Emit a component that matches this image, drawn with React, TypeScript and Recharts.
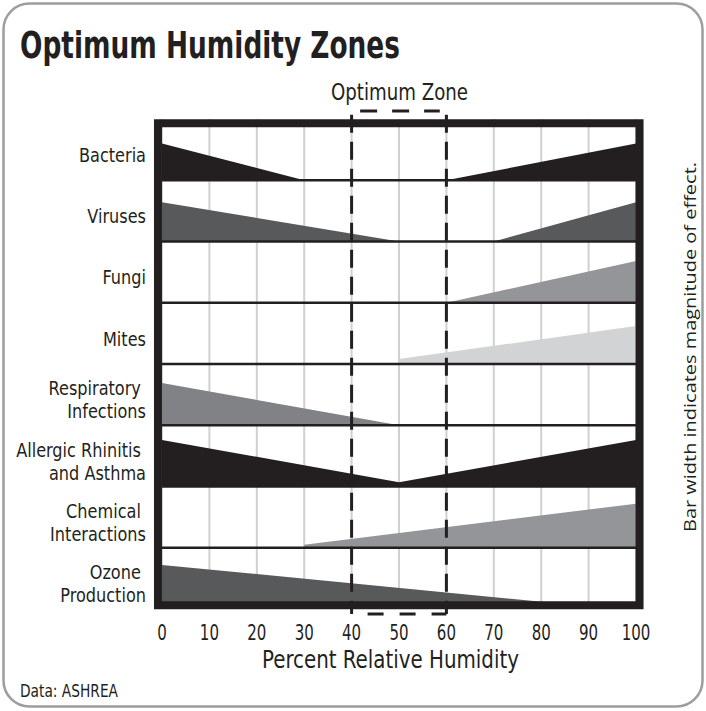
import {
  ComposedChart,
  Area,
  XAxis,
  YAxis,
  CartesianGrid,
  ReferenceLine,
  ReferenceArea,
} from 'recharts';

// humidity breakpoints (% RH) shared by all rows
const HUMIDITY = [0, 30, 50, 60, 70, 96, 100];

// wedge height per row, in row units (1 = full row), null = no point
const BACTERIA = [0.6, 0, null, 0, null, null, 0.6];
const VIRUSES = [0.64, null, 0, null, 0, null, 0.64];
const FUNGI = [null, null, null, 0, null, null, 0.68];
const MITES = [null, null, 0.08, null, null, null, 0.62];
const RESPIRATORY = [0.69, null, 0, null, null, null, null];
const ALLERGIC = [0.76, null, 0.07, null, null, null, 0.76];
const CHEMICAL = [null, 0.05, null, null, null, null, 0.72];
const OZONE = [0.72, null, null, null, null, 0, null];

const ROW_LABELS = [
  ['Bacteria'],
  ['Viruses'],
  ['Fungi'],
  ['Mites'],
  ['Respiratory\u00a0', 'Infections'],
  ['Allergic Rhinitis\u00a0', 'and Asthma'],
  ['Chemical\u00a0', 'Interactions'],
  ['Ozone\u00a0', 'Production'],
];
const ROW_KEYS = ['bacteria', 'viruses', 'fungi', 'mites', 'respiratory', 'allergic', 'chemical', 'ozone'];
const ROW_SERIES = [BACTERIA, VIRUSES, FUNGI, MITES, RESPIRATORY, ALLERGIC, CHEMICAL, OZONE];
const ROW_COLORS = ['#231f20', '#58595b', '#939598', '#d1d3d4', '#808285', '#231f20', '#939598', '#58595b'];

const X_TICKS = [0, 10, 20, 30, 40, 50, 60, 70, 80, 90, 100];
const OPTIMUM = [40, 60];

const NARROW = "'Liberation Sans Narrow', 'DejaVu Sans Condensed', sans-serif";
const INK = '#231f20';
const N = ROW_KEYS.length;

const data = HUMIDITY.map((rh, i) => {
  const row: Record<string, number | null> = { rh };
  ROW_KEYS.forEach((k, r) => {
    row[k] = ROW_SERIES[r][i];
  });
  return row;
});

// row r sits between N-1-r (baseline) and N-r
const baseOf = (r: number) => N - 1 - r;
const rowTicks = ROW_KEYS.map((_, r) => baseOf(r) + 0.5);

function RowTick(props: any) {
  const { x, y, payload } = props;
  const r = N - 1 - Math.floor(payload.value);
  const lines = ROW_LABELS[r] || [];
  const start = 6 - ((lines.length - 1) * 23) / 2;
  return (
    <g transform={`translate(${x - 16},${y}) scale(0.92,1)`}>
      <text textAnchor="end" fontFamily={NARROW} fontSize={19.5} fill={INK} dominantBaseline="middle">
        {lines.map((l, i) => (
          <tspan key={i} x={0} y={start + i * 23}>
            {l}
          </tspan>
        ))}
      </text>
    </g>
  );
}

function HumTick(props: any) {
  const { x, y, payload } = props;
  return (
    <g transform={`translate(${x},${y + 31}) scale(0.76,1)`}>
      <text textAnchor="middle" fontFamily={NARROW} fontSize={22} fill={INK}>
        {payload.value}
      </text>
    </g>
  );
}

export default function App() {
  return (
    <div style={{ position: 'absolute', left: 0, top: 0, width: 706, height: 711, background: '#fff' }}>
      <ComposedChart
        width={706}
        height={711}
        data={data}
        margin={{ top: 119, right: 70, bottom: 72, left: 10 }}
      >
        <CartesianGrid horizontal={false} stroke="#cfd0d2" strokeWidth={2} />
        <XAxis
          type="number"
          dataKey="rh"
          domain={[0, 100]}
          ticks={X_TICKS}
          tick={<HumTick />}
          tickLine={false}
          axisLine={false}
          tickSize={0}
          tickMargin={0}
          height={30}
          interval={0}
        />
        <YAxis
          type="number"
          domain={[0, N]}
          ticks={rowTicks}
          tick={<RowTick />}
          tickLine={false}
          axisLine={false}
          tickSize={0}
          tickMargin={0}
          width={152}
          interval={0}
          allowDataOverflow
        />
        {ROW_KEYS.map((k, r) => (
          <Area
            key={k}
            type="linear"
            dataKey={(d: any) => (d[k] == null ? null : [baseOf(r), baseOf(r) + d[k]])}
            stroke="none"
            fill={ROW_COLORS[r]}
            fillOpacity={1}
            connectNulls
            dot={false}
            activeDot={false}
            isAnimationActive={false}
          />
        ))}
        {ROW_KEYS.slice(0, N - 1).map((k, r) => (
          <ReferenceLine key={'b' + k} y={baseOf(r)} stroke={INK} strokeWidth={2.5} />
        ))}
        {OPTIMUM.map((v) => (
          <ReferenceLine
            key={'o' + v}
            segment={[{ x: v, y: N + 0.07 }, { x: v, y: -0.08 }]}
            stroke={INK}
            strokeWidth={3}
            strokeDasharray="18 9"
            ifOverflow="visible"
          />
        ))}
        <ReferenceLine
          segment={[{ x: OPTIMUM[0] + 1.8, y: N + 0.13 }, { x: OPTIMUM[1] - 1.4, y: N + 0.13 }]}
          stroke={INK}
          strokeWidth={3}
          strokeDasharray="17 15"
          ifOverflow="visible"
        />
        <ReferenceLine
          segment={[{ x: OPTIMUM[0], y: -0.08 }, { x: OPTIMUM[1], y: -0.08 }]}
          stroke={INK}
          strokeWidth={3}
          strokeDasharray="16 16"
          strokeDashoffset={16}
          ifOverflow="visible"
        />
        <ReferenceArea
          x1={-0.85}
          x2={100.75}
          y1={0.06}
          y2={N - 0.07}
          fill="none"
          stroke={INK}
          strokeWidth={8}
          ifOverflow="visible"
        />
      </ComposedChart>
      <svg width={706} height={711} style={{ position: 'absolute', left: 0, top: 0, pointerEvents: 'none' }}>
        <rect x={3.5} y={3.5} width={699} height={703} rx={26} fill="none" stroke="#9d9d9d" strokeWidth={2.5} />
        <text x={20} y={58} fontFamily={NARROW} fontWeight="bold" fontSize={38} fill={INK} textLength={380} lengthAdjust="spacingAndGlyphs">
          Optimum Humidity Zones
        </text>
        <text x={331} y={100} fontFamily={NARROW} fontSize={23} fill={INK} textLength={137} lengthAdjust="spacingAndGlyphs">
          Optimum Zone
        </text>
        <text x={262} y={668} fontFamily={NARROW} fontSize={24} fill={INK} textLength={257} lengthAdjust="spacingAndGlyphs">
          Percent Relative Humidity
        </text>
        <text x={20} y={697} fontFamily={NARROW} fontSize={18} fill={INK} textLength={98} lengthAdjust="spacingAndGlyphs">
          Data: ASHREA
        </text>
        <text
          x={0}
          y={0}
          transform="translate(696, 532) rotate(-90)"
          fontFamily="'Open Sans', 'Noto Sans', sans-serif"
          fontSize={17}
          fill={INK}
          textLength={370}
          lengthAdjust="spacingAndGlyphs"
        >
          Bar width indicates magnitude of effect.
        </text>
      </svg>
    </div>
  );
}
